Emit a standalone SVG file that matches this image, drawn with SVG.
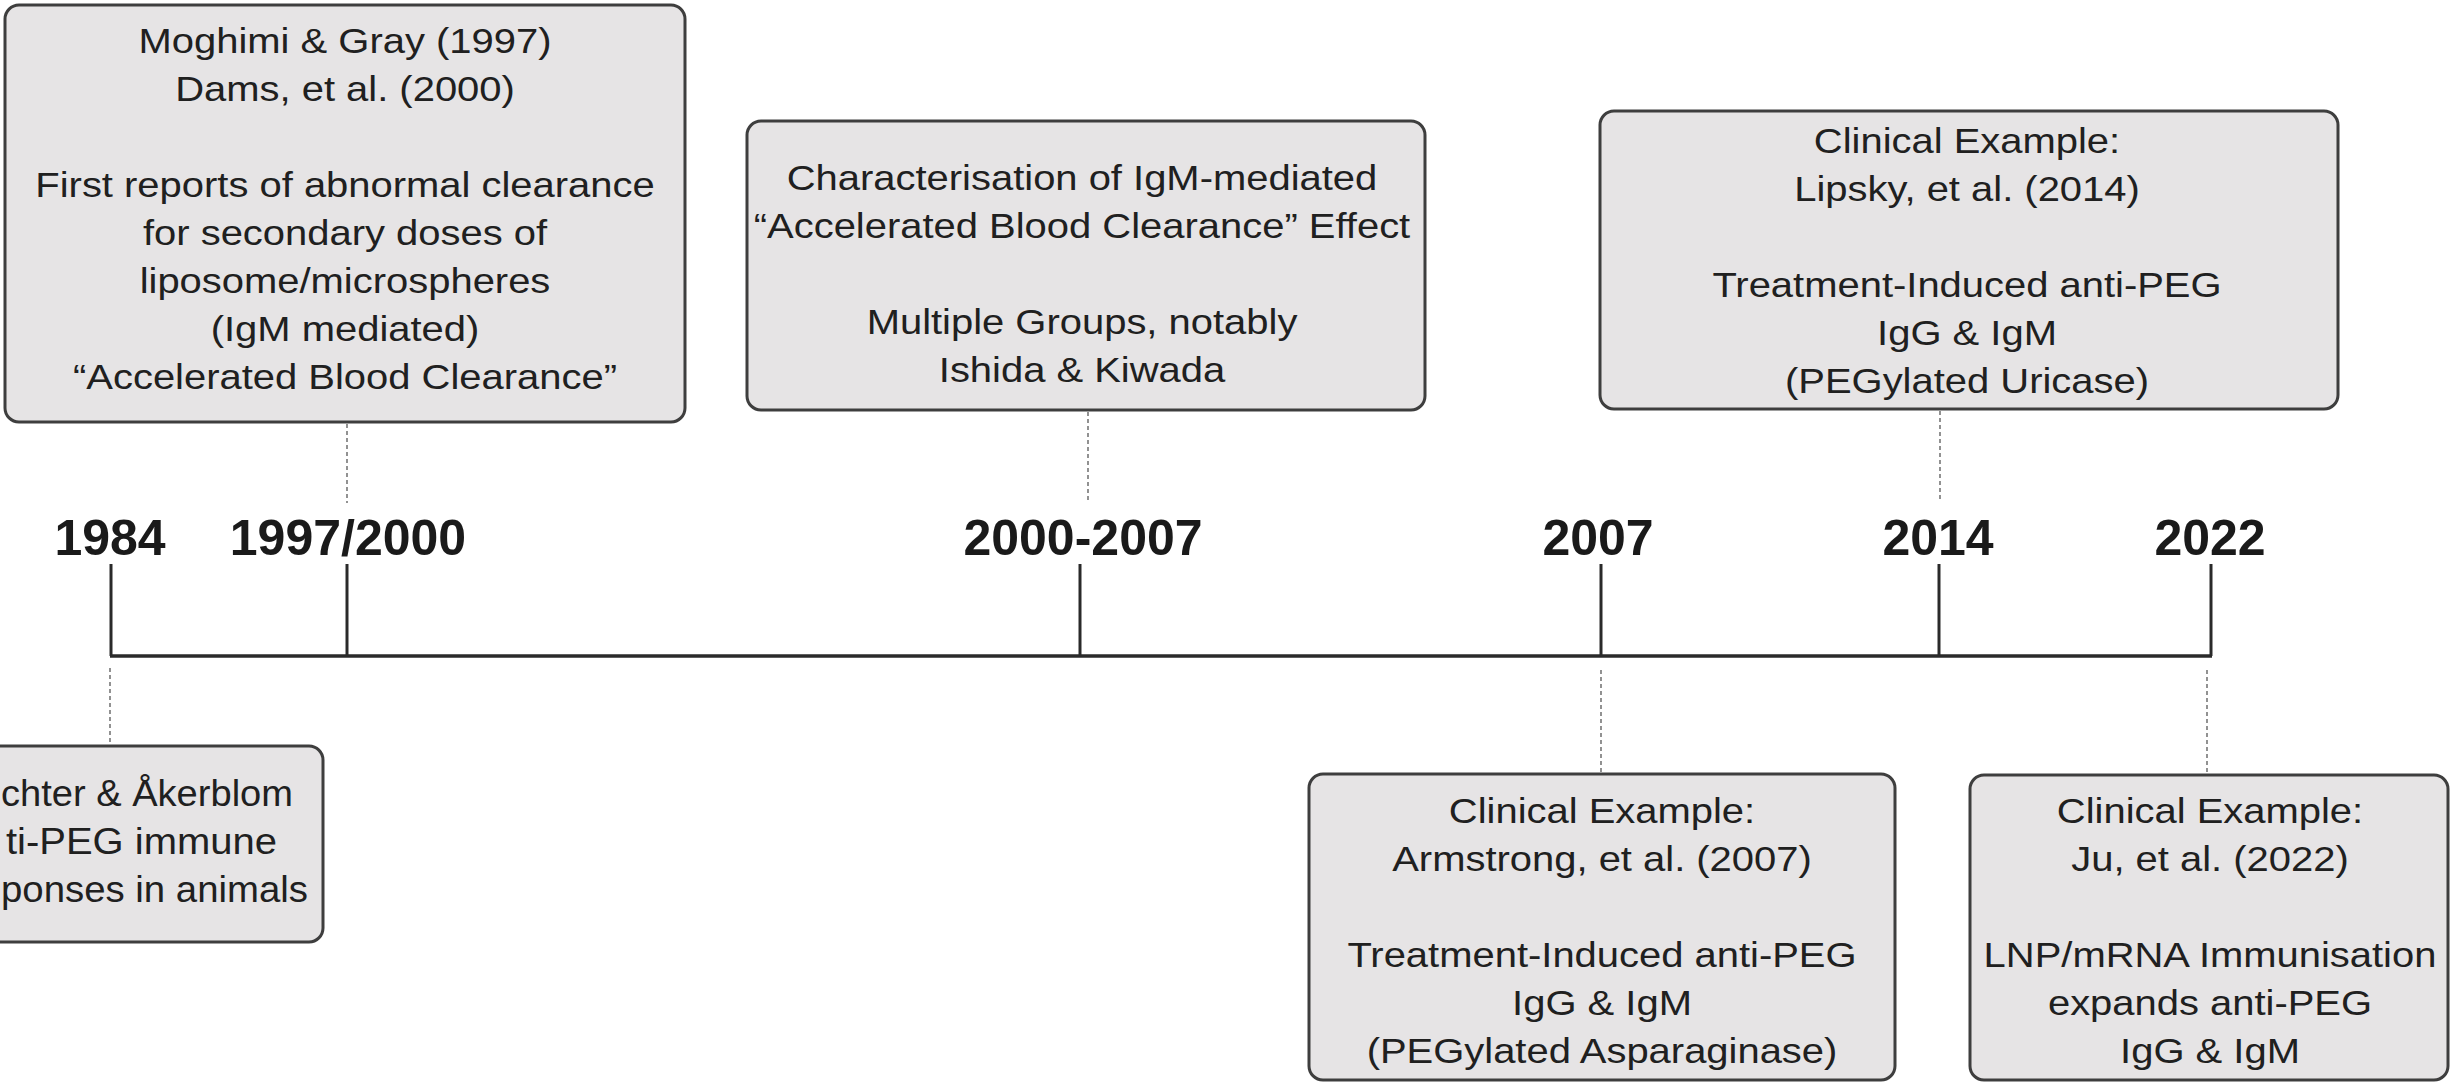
<svg xmlns="http://www.w3.org/2000/svg" width="2450" height="1083" viewBox="0 0 2450 1083">
<style>
.box{fill:#e6e4e5;stroke:#3e3e3e;stroke-width:3}
.t{font-family:"Liberation Sans",Arial,sans-serif;font-size:36px;fill:#202020;text-anchor:middle}
.ts{font-family:"Liberation Sans",Arial,sans-serif;font-size:36px;fill:#202020;text-anchor:start}
.yr{font-family:"Liberation Sans",Arial,sans-serif;font-size:50px;font-weight:bold;fill:#1a1a1a;text-anchor:middle}
.axis{stroke:#2a2a2a;stroke-width:3.5;fill:none}
.tick{stroke:#2a2a2a;stroke-width:3;fill:none}
.dot{stroke:#777;stroke-width:1.6;stroke-dasharray:4 3;fill:none}
</style>
<rect width="2450" height="1083" fill="#ffffff"/>

<g id="connectors">
<line class="axis" x1="110" y1="656" x2="2212" y2="656"/>
<line class="tick" x1="111" y1="564" x2="111" y2="656"/>
<line class="tick" x1="347" y1="564" x2="347" y2="656"/>
<line class="tick" x1="1080" y1="564" x2="1080" y2="656"/>
<line class="tick" x1="1601" y1="564" x2="1601" y2="656"/>
<line class="tick" x1="1939" y1="564" x2="1939" y2="656"/>
<line class="tick" x1="2211" y1="564" x2="2211" y2="656"/>
<line class="dot" x1="347" y1="424" x2="347" y2="503"/>
<line class="dot" x1="1088" y1="412" x2="1088" y2="502"/>
<line class="dot" x1="1940" y1="411" x2="1940" y2="502"/>
<line class="dot" x1="110" y1="668" x2="110" y2="744"/>
<line class="dot" x1="1601" y1="670" x2="1601" y2="772"/>
<line class="dot" x1="2207" y1="670" x2="2207" y2="773"/>
</g>

<g id="years">
<text class="yr" x="110" y="555">1984</text>
<text class="yr" x="348" y="555">1997/2000</text>
<text class="yr" x="1083" y="555">2000-2007</text>
<text class="yr" x="1598" y="555">2007</text>
<text class="yr" x="1938" y="555">2014</text>
<text class="yr" x="2210" y="555">2022</text>
</g>

<g id="node-1997">
<rect class="box" x="5" y="5" width="680" height="417" rx="14"/>
<g transform="translate(345 0) scale(1.11 1)">
<text class="t" x="0" y="53">Moghimi &amp; Gray (1997)</text>
<text class="t" x="0" y="101">Dams, et al. (2000)</text>
<text class="t" x="0" y="197">First reports of abnormal clearance</text>
<text class="t" x="0" y="245">for secondary doses of</text>
<text class="t" x="0" y="293">liposome/microspheres</text>
<text class="t" x="0" y="341">(IgM mediated)</text>
<text class="t" x="0" y="389">“Accelerated Blood Clearance”</text>
</g>
</g>

<g id="node-2000-2007">
<rect class="box" x="747" y="121" width="678" height="289" rx="14"/>
<g transform="translate(1082 0) scale(1.11 1)">
<text class="t" x="0" y="190">Characterisation of IgM-mediated</text>
<text class="t" x="0" y="238">“Accelerated Blood Clearance” Effect</text>
<text class="t" x="0" y="334">Multiple Groups, notably</text>
<text class="t" x="0" y="382">Ishida &amp; Kiwada</text>
</g>
</g>

<g id="node-2014">
<rect class="box" x="1600" y="111" width="738" height="298" rx="14"/>
<g transform="translate(1967 0) scale(1.11 1)">
<text class="t" x="0" y="153">Clinical Example:</text>
<text class="t" x="0" y="201">Lipsky, et al. (2014)</text>
<text class="t" x="0" y="297">Treatment-Induced anti-PEG</text>
<text class="t" x="0" y="345">IgG &amp; IgM</text>
<text class="t" x="0" y="393">(PEGylated Uricase)</text>
</g>
</g>

<g id="node-1984">
<rect class="box" x="-90" y="746" width="413" height="196" rx="14"/>
<text class="ts" x="1" y="806" textLength="292" lengthAdjust="spacingAndGlyphs">chter &amp; Åkerblom</text>
<text class="ts" x="6" y="854" textLength="271" lengthAdjust="spacingAndGlyphs">ti-PEG immune</text>
<text class="ts" x="1" y="902" textLength="307" lengthAdjust="spacingAndGlyphs">ponses in animals</text>
</g>

<g id="node-2007">
<rect class="box" x="1309" y="774" width="586" height="306" rx="14"/>
<g transform="translate(1602 0) scale(1.11 1)">
<text class="t" x="0" y="823">Clinical Example:</text>
<text class="t" x="0" y="871">Armstrong, et al. (2007)</text>
<text class="t" x="0" y="967">Treatment-Induced anti-PEG</text>
<text class="t" x="0" y="1015">IgG &amp; IgM</text>
<text class="t" x="0" y="1063">(PEGylated Asparaginase)</text>
</g>
</g>

<g id="node-2022">
<rect class="box" x="1970" y="775" width="478" height="305" rx="14"/>
<g transform="translate(2210 0) scale(1.11 1)">
<text class="t" x="0" y="823">Clinical Example:</text>
<text class="t" x="0" y="871">Ju, et al. (2022)</text>
<text class="t" x="0" y="967">LNP/mRNA Immunisation</text>
<text class="t" x="0" y="1015">expands anti-PEG</text>
<text class="t" x="0" y="1063">IgG &amp; IgM</text>
</g>
</g>
</svg>
